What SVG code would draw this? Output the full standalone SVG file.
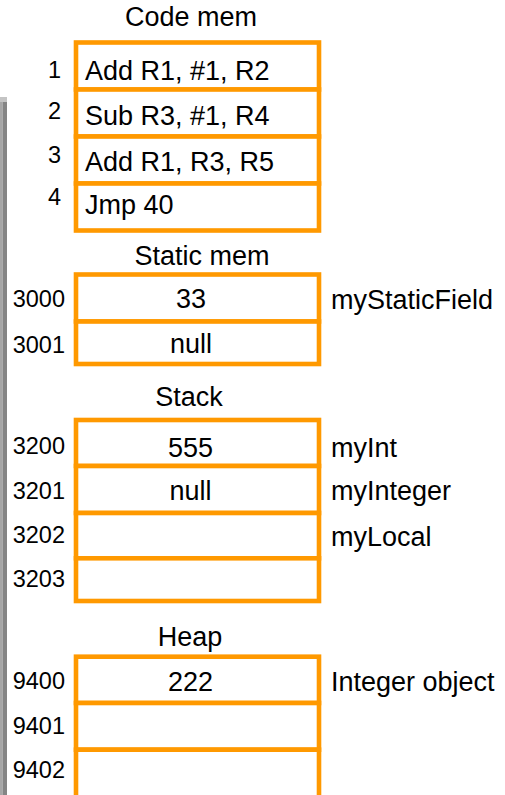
<svg xmlns="http://www.w3.org/2000/svg" width="505" height="795" viewBox="0 0 505 795">
<style>
.cell{fill:#fff;stroke:#ff9900;stroke-width:4.6}
.t{font-family:"Liberation Sans",Arial,sans-serif;font-size:27px;fill:#000}
.n{font-family:"Liberation Sans",Arial,sans-serif;font-size:23.5px;fill:#000}
.m{text-anchor:middle}
.e{text-anchor:end}
</style>
<rect x="0" y="97" width="2.5" height="698" fill="#a6a6a6"/>
<rect x="2.5" y="97" width="4.5" height="698" fill="#858585"/>
<rect x="0" y="97" width="7" height="5" fill="#c4c4c4"/>

<g id="code-mem">
<text class="t m" x="191" y="26">Code mem</text>
<g id="code-1"><rect class="cell" x="76" y="42.5" width="243" height="47"/><text class="n e" x="61" y="78">1</text><text class="t" x="85" y="80">Add R1, #1, R2</text></g>
<g id="code-2"><rect class="cell" x="76" y="89.5" width="243" height="47"/><text class="n e" x="61" y="119">2</text><text class="t" x="85" y="125">Sub R3, #1, R4</text></g>
<g id="code-3"><rect class="cell" x="76" y="136.5" width="243" height="47"/><text class="n e" x="61" y="163">3</text><text class="t" x="85" y="171">Add R1, R3, R5</text></g>
<g id="code-4"><rect class="cell" x="76" y="183.5" width="243" height="47"/><text class="n e" x="61" y="205">4</text><text class="t" x="85" y="214">Jmp 40</text></g>
</g>

<g id="static-mem">
<text class="t m" x="202" y="265">Static mem</text>
<g id="static-3000"><rect class="cell" x="76" y="274.5" width="243" height="47"/><text class="n e" x="65" y="307">3000</text><text class="t m" x="191" y="308">33</text><text class="t" x="331" y="309">myStaticField</text></g>
<g id="static-3001"><rect class="cell" x="76" y="321.5" width="243" height="42.5"/><text class="n e" x="65" y="352.5">3001</text><text class="t m" x="191" y="353">null</text></g>
</g>

<g id="stack">
<text class="t m" x="189" y="406">Stack</text>
<g id="stack-3200"><rect class="cell" x="76" y="420" width="243" height="46"/><text class="n e" x="65" y="454">3200</text><text class="t m" x="190.5" y="457">555</text><text class="t" x="331" y="456.5">myInt</text></g>
<g id="stack-3201"><rect class="cell" x="76" y="466" width="243" height="47"/><text class="n e" x="65" y="499">3201</text><text class="t m" x="190.5" y="500">null</text><text class="t" x="331" y="500">myInteger</text></g>
<g id="stack-3202"><rect class="cell" x="76" y="513" width="243" height="45.3"/><text class="n e" x="65" y="543.3">3202</text><text class="t" x="331" y="546">myLocal</text></g>
<g id="stack-3203"><rect class="cell" x="76" y="558.3" width="243" height="42.7"/><text class="n e" x="65" y="586.7">3203</text></g>
</g>

<g id="heap">
<text class="t m" x="190" y="646">Heap</text>
<g id="heap-9400"><rect class="cell" x="76" y="656.7" width="243" height="46.3"/><text class="n e" x="65" y="689">9400</text><text class="t m" x="190.5" y="690.7">222</text><text class="t" x="331" y="690.7">Integer object</text></g>
<g id="heap-9401"><rect class="cell" x="76" y="703" width="243" height="46.7"/><text class="n e" x="65" y="734">9401</text></g>
<g id="heap-9402"><rect class="cell" x="76" y="749.7" width="243" height="80"/><text class="n e" x="65" y="777.7">9402</text></g>
</g>
</svg>
